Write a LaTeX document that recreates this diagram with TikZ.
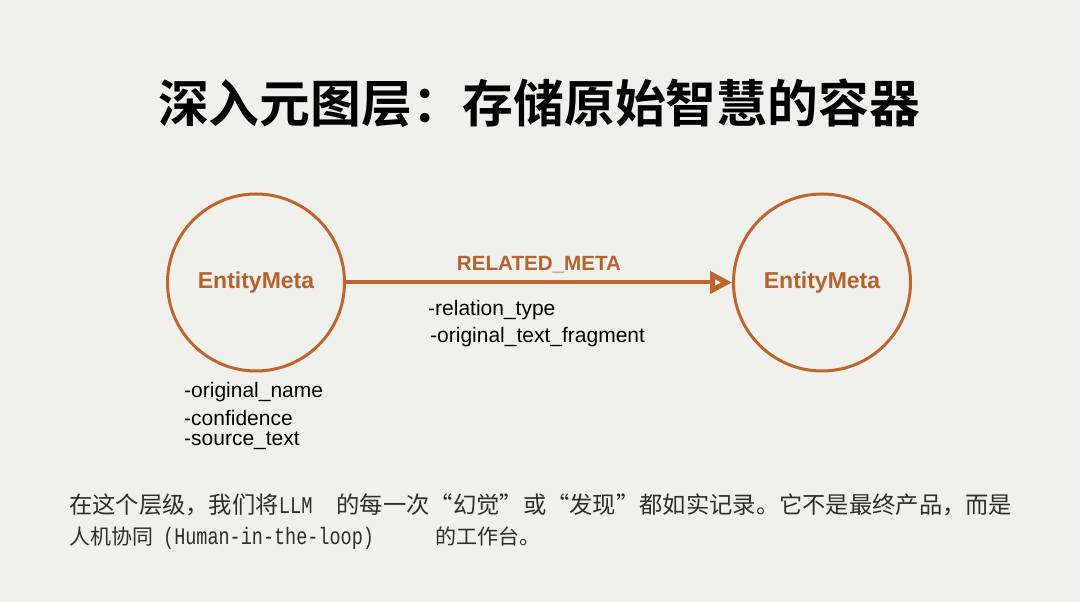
\documentclass[tikz,border=0pt]{standalone}
\usepackage{fontspec}
\setmainfont{Liberation Sans}
\setmonofont{Liberation Mono}[FakeStretch=0.78]
\newfontfamily\cjk{Noto Sans CJK SC}
\newfontfamily\cjkbf{Noto Sans CJK SC Bold}
\usetikzlibrary{arrows.meta, positioning}
\definecolor{bgpage}{RGB}{240,240,236}
\definecolor{rust}{RGB}{193,101,47}
\definecolor{rusttext}{RGB}{181,98,46}
\definecolor{bodytext}{RGB}{45,45,45}

\begin{document}
\begin{tikzpicture}[
    x=1pt, y=1pt,
    entity/.style={
        circle,
        draw=rust,
        line width=3pt,
        minimum size=177pt,
        inner sep=0pt,
        text=rusttext,
        font=\fontsize{23}{27}\selectfont\bfseries
    },
    attr/.style={
        anchor=west,
        inner sep=0pt,
        font=\fontsize{21}{25}\selectfont
    },
    note/.style={
        anchor=west,
        inner sep=0pt,
        text=bodytext,
        font=\cjk\fontsize{23.3}{28}\selectfont
    },
    rel/.style={rust, line width=4pt,
        -{Triangle[open, length=22pt, width=22pt, line width=5pt]}},
    lab/.style={
        text=rusttext,
        inner sep=0pt,
        font=\fontsize{20.6}{24}\selectfont\bfseries
    }
]

% ---------------- Page ----------------
\fill[bgpage] (0,0) rectangle (1080,602);

\node[font=\cjkbf\fontsize{50.8}{60}\selectfont] (title) at (539, 499)
    {深入元图层：存储原始智慧的容器};

% ---------------- Nodes ----------------
\node[entity] (entityL) at (256, 319.5) {EntityMeta};
\node[entity] (entityR) at (822, 319.5) {EntityMeta};

\node[attr] (origName)   at (184, 210) {-original\_name};
\node[attr] (confidence) at (184, 184) {-confidence};
\node[attr] (sourceText) at (184, 161) {-source\_text};

\node[attr] (relType)  at (428, 292) {-relation\_type};
\node[attr] (origFrag) at (430, 265) {-original\_text\_fragment};

% ---------------- Relation ----------------
\draw[rel] (entityL) -- node[lab, above=7pt] {RELATED\_META} (entityR);

% ---------------- Note ----------------
\node[note] (noteA) at (69, 97)
    {在这个层级，我们将{\ttfamily\fontsize{24}{28}\selectfont LLM}\hspace{24pt}的每一次“幻觉”或“发现”都如实记录。它不是最终产品，而是};
\node[note, font=\cjk\fontsize{21}{25}\selectfont] (noteB) at (69, 64)
    {人机协同\hspace{10pt}{\ttfamily\fontsize{23.7}{27}\selectfont (Human-in-the-loop)}\hspace{62pt}的工作台。};

\end{tikzpicture}
\end{document}
